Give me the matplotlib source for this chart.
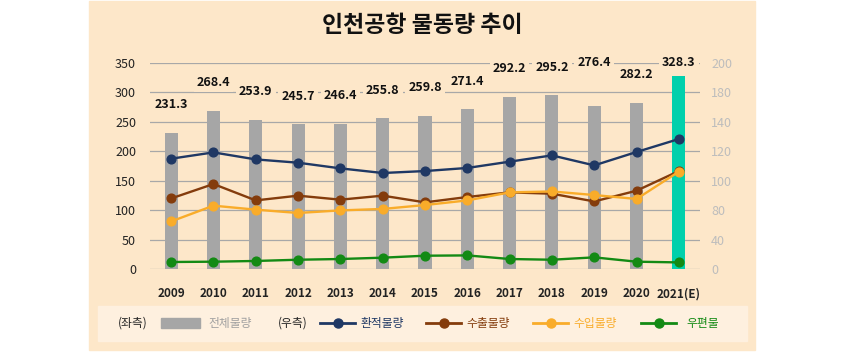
import matplotlib
matplotlib.use("Agg")
import matplotlib.pyplot as plt
import numpy as np
from matplotlib.patches import Rectangle
from matplotlib.lines import Line2D

plt.rcParams['font.family'] = ['Noto Sans CJK KR', 'DejaVu Sans']

# data (left axis: total, right axis: the four lines)
years = ['2009', '2010', '2011', '2012', '2013', '2014', '2015', '2016',
         '2017', '2018', '2019', '2020', '2021(E)']
total = [231.3, 268.4, 253.9, 245.7, 246.4, 255.8, 259.8, 271.4,
         292.2, 295.2, 276.4, 282.2, 328.3]
transship = [107.1, 113.2, 106.4, 103.2, 97.7, 93.2, 95.1, 98.1,
             104.2, 110.3, 100.6, 113.6, 126.2]
export = [68.5, 82.5, 66.6, 71.2, 67.3, 71.2, 64.7, 69.9,
          74.4, 73.1, 65.6, 76.0, 95.1]
imports = [46.2, 61.5, 57.6, 54.4, 56.9, 58.3, 62.1, 66.6,
           74.4, 75.3, 71.8, 68.0, 94.5]
mail = [6.8, 7.1, 7.8, 9.0, 9.7, 11.0, 12.9, 13.2,
        9.7, 9.0, 11.3, 7.1, 6.4]
left_ticks = [0, 50, 100, 150, 200, 250, 300, 350]
right_tick_labels = ['0', '40', '80', '100', '120', '140', '180', '200']

BG = '#FDE7C9'
LEGEND_BG = '#FEF0DF'
GRAY = '#A6A6A6'
TEAL = '#00D0AC'
NAVY = '#1F3864'
BROWN = '#843C0C'
ORANGE = '#F9AC2A'
GREEN = '#138A14'

W, H = 844, 353
fig = plt.figure(figsize=(W / 100, H / 100), dpi=100)
fig.patch.set_facecolor('white')


def fx(px):
    return px / W


def fy(py):
    return 1 - py / H


# peach panel and legend box
fig.patches.append(Rectangle((fx(89), fy(350)), fx(755 - 89), (350 - 1) / H,
                             transform=fig.transFigure, color=BG, zorder=-2))
fig.patches.append(Rectangle((fx(98), fy(341)), fx(747 - 98), (341 - 306) / H,
                             transform=fig.transFigure, color=LEGEND_BG, zorder=-1))

ax = fig.add_axes([fx(150), fy(269), fx(700 - 150), (269 - 63) / H])
ax.set_facecolor('none')
x = np.arange(len(years))

colors = [GRAY] * (len(years) - 1) + [TEAL]
ax.bar(x, total, width=0.31, color=colors, zorder=2)
ax.set_xlim(-0.5, len(years) - 0.5)
ax.set_ylim(0, 350)
ax.set_yticks(left_ticks)
ax.set_axisbelow(True)
ax.grid(axis='y', color='#A8A8A8', linewidth=0.9, zorder=0)
ax.set_xticks(x)
ax.set_xticklabels(years, fontsize=8.5, fontweight='bold', color='#222222')
ax.tick_params(axis='x', length=0, pad=13)
ax.tick_params(axis='y', length=0, pad=10, labelsize=9, labelcolor='#222222')
for s in ax.spines.values():
    s.set_visible(False)

# value labels above the bars
special = {10: 75, 12: 23}
for i, v in enumerate(total):
    off = special.get(i, 48)
    ax.text(i, v + off, f'{v:.1f}', ha='center', va='center', fontsize=9,
            fontweight='bold', color='#111111', zorder=5,
            bbox=dict(boxstyle='square,pad=0.25', facecolor=BG, edgecolor='none'))

ax2 = ax.twinx()
ax2.set_ylim(0, 200)
ax2.set_yticks(np.linspace(0, 200, len(right_tick_labels)))
ax2.set_yticklabels(right_tick_labels)
ax2.tick_params(axis='y', length=0, pad=8, labelsize=9, labelcolor='#BDBDBD')
for s in ax2.spines.values():
    s.set_visible(False)

series = [(transship, NAVY), (export, BROWN), (imports, ORANGE), (mail, GREEN)]
for vals, c in series:
    ax2.plot(x, vals, color=c, linewidth=1.7, marker='o', markersize=6.3, zorder=3)

fig.text(0.5, fy(25), '인천공항 물동량 추이', ha='center', va='center',
         fontsize=16.5, fontweight='heavy', color='#111111')

# legend
ly = fy(323)
fs = 8.5
fig.text(fx(118), ly, '(좌측)', ha='left', va='center', fontsize=fs,
         fontweight='medium', color='#222222')
fig.patches.append(Rectangle((fx(161), fy(328)), fx(39), 10 / H,
                             transform=fig.transFigure, color=GRAY))
fig.text(fx(208), ly, '전체물량', ha='left', va='center', fontsize=fs, color='#A0A0A0')
fig.text(fx(278), ly, '(우측)', ha='left', va='center', fontsize=fs,
         fontweight='medium', color='#222222')
items = [(320, 361, '환적물량', NAVY), (426, 466, '수출물량', BROWN),
         (533, 573, '수입물량', ORANGE), (641, 686, '우편물', GREEN)]
for x0, tx, label, c in items:
    fig.lines.append(Line2D([fx(x0), fx(x0 + 35)], [ly, ly], transform=fig.transFigure,
                            color=c, linewidth=2))
    fig.lines.append(Line2D([fx(x0 + 17.5)], [ly], transform=fig.transFigure,
                            color=c, marker='o', markersize=6.5))
    fig.text(fx(tx), ly, label, ha='left', va='center', fontsize=fs, color=c)

fig.savefig('out.png', dpi=100, facecolor=fig.get_facecolor())
